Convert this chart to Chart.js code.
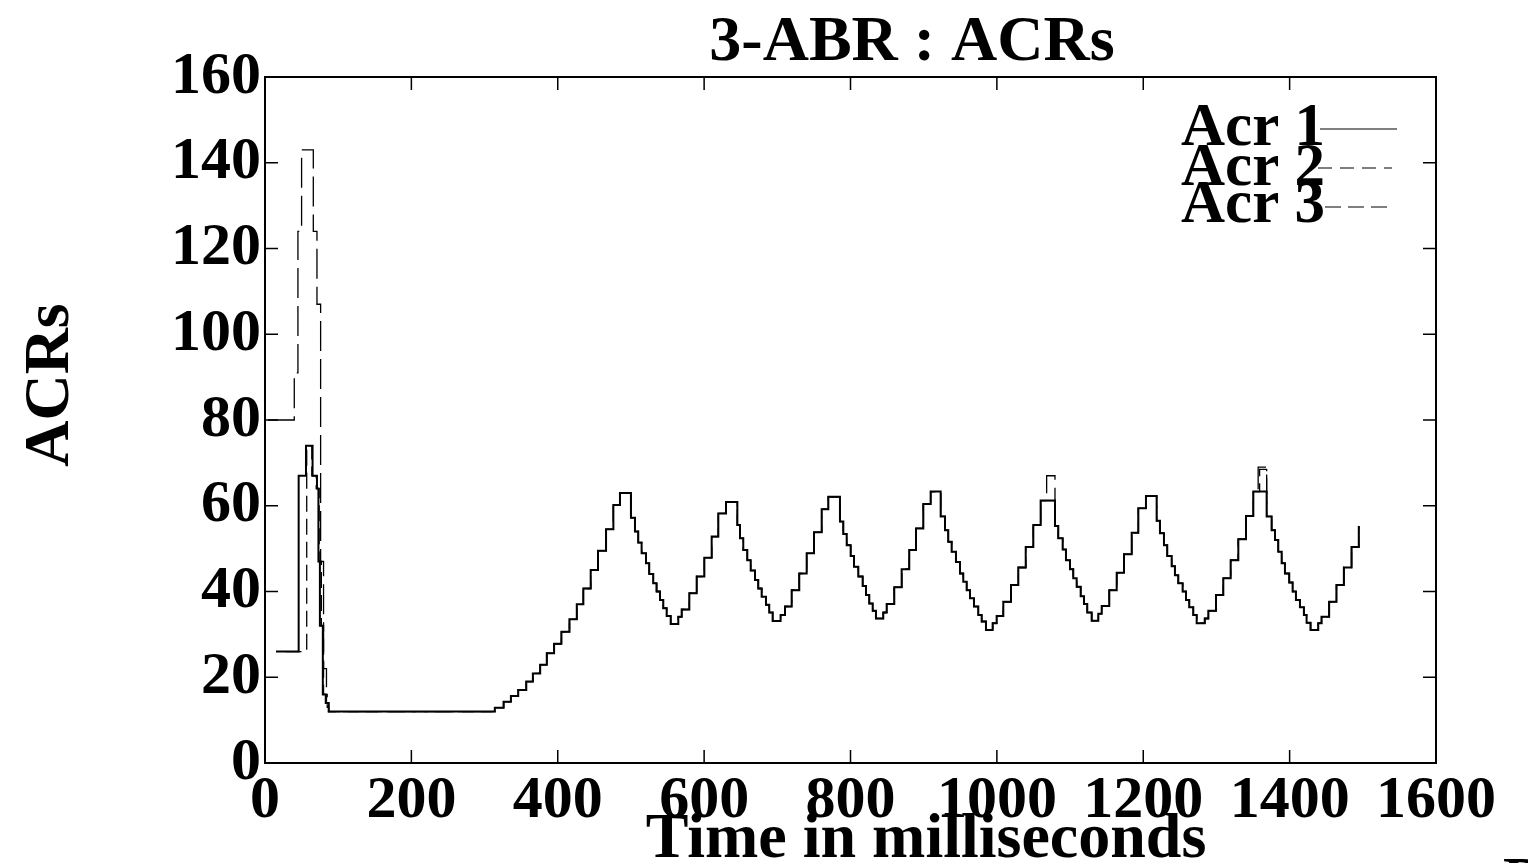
<!DOCTYPE html>
<html>
<head>
<meta charset="utf-8">
<title>3-ABR : ACRs</title>
<script src="https://cdn.jsdelivr.net/npm/chart.js@4.4.1/dist/chart.umd.min.js"></script>
<style>
  html, body { margin: 0; padding: 0; background: #fff; }
  #box { width: 1528px; height: 863px; position: relative; }
</style>
</head>
<body>
<div id="box"><canvas id="grafico"></canvas></div>
<script>
// valori (tempo in ms, ACR)
const acr1StartTime  = [15, 46, 56, 65, 71, 73, 75, 79, 83];
const acr1StartValue = [26, 67, 74, 67, 64, 47, 32, 16, 14];

const acr2StartTime  = [4, 40, 45, 50, 66, 71, 76, 80, 84];
const acr2StartValue = [80, 91, 124, 143, 124, 107, 47, 22, 14];

const acr3StartTime  = [28, 57, 64, 70, 74, 77, 80, 85];
const acr3StartValue = [26, 74, 67, 64, 47, 32, 16, 13];

// parte comune (le tre curve quasi si sovrappongono)
const cycleTime = [
  87, 314, 326, 336, 346, 357, 366, 376, 385, 395, 405, 416, 426, 435, 445, 455, 466, 476, 485,
  500, 505.5, 510, 514.6, 520.6, 525, 530.5, 535, 539.7, 544.2, 548.8, 554.3,
  564.7, 569.3, 579.8, 589.8, 600.3, 610.3, 619.4, 629.9,
  645.4, 649, 653.5, 659, 663.6, 669.5, 674, 678.6, 684.5, 689, 693.6,
  704.5, 710.5, 719.6, 730, 740.1, 750.1, 760.6, 769.7,
  785.6, 790.2, 794.8, 800.2, 804.8, 810.7, 816.6, 821.2, 825.7, 830.3, 834.8,
  844.8, 849.4, 859.8, 869.9, 880.3, 889.5, 899.5, 909.5,
  923.2, 929.1, 933.6, 938.2, 944.1, 949.6, 954.1, 958.7, 963.3, 968.7, 974.6, 979.2, 985.1,
  994.2, 999.7, 1008.8, 1019.3, 1029.3, 1039.4, 1049.8, 1059.8,
  1079.4, 1083.9, 1089.9, 1094.4, 1099.9, 1104.4, 1109, 1114.5, 1119, 1123.5, 1129.5,
  1138.6, 1143.2, 1153.6, 1163.7, 1173.7, 1184.2, 1193.3, 1203.7,
  1218.3, 1222.8, 1228.3, 1232.8, 1238.8, 1243.3, 1247.9, 1253.8, 1258.4, 1262.9, 1268.4, 1273,
  1284, 1289, 1299.4, 1309.4, 1319.4, 1329.9, 1340.4, 1350.4,
  1368.6, 1375.4, 1380, 1384.5, 1389.1, 1393.6, 1399.5, 1404.1, 1408.6, 1414.1, 1419.5, 1423.2, 1428.6,
  1439.1, 1443.6, 1454, 1464, 1474.1, 1484.6, 1494.5
];
const cycleValue = [
  12, 12.9, 14.3, 15.6, 17.0, 19.0, 20.9, 22.9, 25.6, 27.8, 30.6, 33.5, 37.0, 40.7, 45.0, 49.5, 54.5, 60.2, 63.0,
  57.2, 54, 51.4, 48.9, 46.6, 44.1, 41.9, 40, 38, 36.1, 34.3, 32.4,
  34.1, 35.8, 39.6, 43.5, 47.9, 52.8, 58.2, 60.9,
  55.5, 52.4, 49.7, 47.3, 44.9, 42.7, 40.7, 38.8, 36.9, 35.1, 33.1,
  34.5, 36.5, 40.3, 44.2, 48.9, 53.8, 59.2, 62.1,
  56.3, 53.4, 50.8, 48.3, 45.8, 43.5, 41.3, 39.2, 37.2, 35.5, 33.7,
  35.1, 37.1, 41.0, 45.2, 49.7, 54.7, 60.4, 63.3,
  57.5, 54.3, 51.6, 49.3, 46.9, 44.2, 42.3, 40.3, 38.4, 36.5, 34.5, 33.0, 31.0,
  32.6, 34.3, 37.6, 41.5, 45.6, 50.4, 55.5, 61.2,
  55.3, 52.4, 49.8, 47.3, 45.2, 43.1, 41.1, 38.9, 37.1, 35.1, 33.2,
  34.8, 36.6, 40.3, 44.4, 48.7, 53.7, 59.4, 62.3,
  56.5, 53.6, 50.8, 48.3, 45.9, 43.8, 41.9, 40, 38, 36.3, 34.5, 32.6,
  33.7, 35.5, 39.2, 43.1, 47.3, 52.2, 57.6, 63.3,
  57.5, 54.3, 52, 49.3, 46.6, 44.2, 42.1, 40, 38, 36.3, 34.5, 32.7, 31,
  32.6, 34.1, 37.6, 41.5, 45.6, 50.4, 55.3
];

// picchi tratteggiati che escono dalla curva comune
const acr2SpikeTime  = [1068, 1357];
const acr2SpikeValue = [67, 69];
const acr3SpikeTime  = [1359];
const acr3SpikeValue = [68.5];

const xTicks = [0, 200, 400, 600, 800, 1000, 1200, 1400, 1600];
const yTicks = [0, 20, 40, 60, 80, 100, 120, 140, 160];
const serieNomi = ['Acr 1', 'Acr 2', 'Acr 3'];

function punti(tempi, valori) {
  return tempi.map((t, i) => ({ x: t, y: valori[i] }));
}

function serie(startT, startV, spikeT, spikeV) {
  const p = punti(startT, startV)
    .concat(punti(cycleTime, cycleValue))
    .concat(punti(spikeT, spikeV));
  p.sort((a, b) => a.x - b.x);
  return p;
}

const dati1 = serie(acr1StartTime, acr1StartValue, [], []);
const dati2 = serie(acr2StartTime, acr2StartValue, acr2SpikeTime, acr2SpikeValue);
const dati3 = serie(acr3StartTime, acr3StartValue, acr3SpikeTime, acr3SpikeValue);

const dash2 = [30, 8];
const dash3 = [16, 7];
const fontTick = { family: 'Liberation Serif', weight: 'bold', size: 60, lineHeight: 1 };

// cornice, tacche interne, titoli e legenda in stile gnuplot
const decorazioni = {
  id: 'decorazioni',
  afterDraw(chart) {
    const ctx = chart.ctx;
    const a = chart.chartArea;
    const sx = chart.scales.x, sy = chart.scales.y;
    ctx.save();
    ctx.strokeStyle = '#000';
    ctx.lineWidth = 2;
    ctx.strokeRect(a.left, a.top, a.right - a.left, a.bottom - a.top);
    ctx.lineWidth = 1.5;
    ctx.beginPath();
    yTicks.forEach(v => {
      const y = sy.getPixelForValue(v);
      ctx.moveTo(a.left, y); ctx.lineTo(a.left + 13, y);
      ctx.moveTo(a.right, y); ctx.lineTo(a.right - 13, y);
    });
    xTicks.forEach(v => {
      const x = sx.getPixelForValue(v);
      ctx.moveTo(x, a.bottom); ctx.lineTo(x, a.bottom - 13);
      ctx.moveTo(x, a.top); ctx.lineTo(x, a.top + 13);
    });
    ctx.stroke();

    ctx.fillStyle = '#000';
    ctx.font = 'bold 64px "Liberation Serif"';
    ctx.textAlign = 'center';
    ctx.textBaseline = 'alphabetic';
    ctx.fillText('3-ABR : ACRs', 912, 60);
    ctx.fillText('Time in milliseconds', 926, 857);

    ctx.save();
    ctx.translate(68, 385);
    ctx.rotate(-Math.PI / 2);
    ctx.fillText('ACRs', 0, 0);
    ctx.restore();

    ctx.font = 'bold 61px "Liberation Serif"';
    ctx.textAlign = 'right';
    const dashes = [[], [14, 8], dash3];
    const lineY = [129, 168, 207];
    const baseY = [145, 185, 222];
    const lineX = [[1320, 1397], [1318, 1392], [1325, 1392]];
    serieNomi.forEach((nome, i) => {
      ctx.fillText(nome, 1325, baseY[i]);
      ctx.setLineDash(dashes[i]);
      ctx.lineWidth = 1.2;
      ctx.beginPath();
      ctx.moveTo(lineX[i][0], lineY[i]);
      ctx.lineTo(lineX[i][1], lineY[i]);
      ctx.stroke();
    });
    ctx.setLineDash([]);

    ctx.textAlign = 'left';
    ctx.font = 'bold 60px "Liberation Serif"';
    ctx.fillText('D', 1503, 898);
    ctx.restore();
  }
};

new Chart(document.getElementById('grafico'), {
  type: 'line',
  data: {
    datasets: [
      { label: serieNomi[0], data: dati1, borderColor: '#000', borderWidth: 2, stepped: 'before', pointRadius: 0, fill: false },
      { label: serieNomi[1], data: dati2, borderColor: '#000', borderWidth: 1.3, borderDash: dash2, stepped: 'before', pointRadius: 0, fill: false },
      { label: serieNomi[2], data: dati3, borderColor: '#000', borderWidth: 1.3, borderDash: dash3, stepped: 'before', pointRadius: 0, fill: false }
    ]
  },
  options: {
    responsive: true,
    maintainAspectRatio: false,
    animation: false,
    devicePixelRatio: 1,
    layout: { padding: { left: 0, top: 77, right: 92, bottom: 0 } },
    plugins: { legend: { display: false }, title: { display: false }, tooltip: { enabled: false } },
    scales: {
      x: {
        type: 'linear', min: 0, max: 1600,
        afterBuildTicks: s => { s.ticks = xTicks.map(v => ({ value: v })); },
        afterFit: s => { s.height = 100; },
        grid: { display: false }, border: { display: false },
        ticks: { color: '#000', font: fontTick, padding: 0, autoSkip: false, maxRotation: 0, callback: v => String(v) }
      },
      y: {
        type: 'linear', min: 0, max: 160,
        afterBuildTicks: s => { s.ticks = yTicks.map(v => ({ value: v })); },
        afterFit: s => { s.width = 265; },
        grid: { display: false }, border: { display: false },
        ticks: { color: '#000', font: fontTick, padding: -4, callback: v => String(v) }
      }
    }
  },
  plugins: [decorazioni]
});
</script>
</body>
</html>
